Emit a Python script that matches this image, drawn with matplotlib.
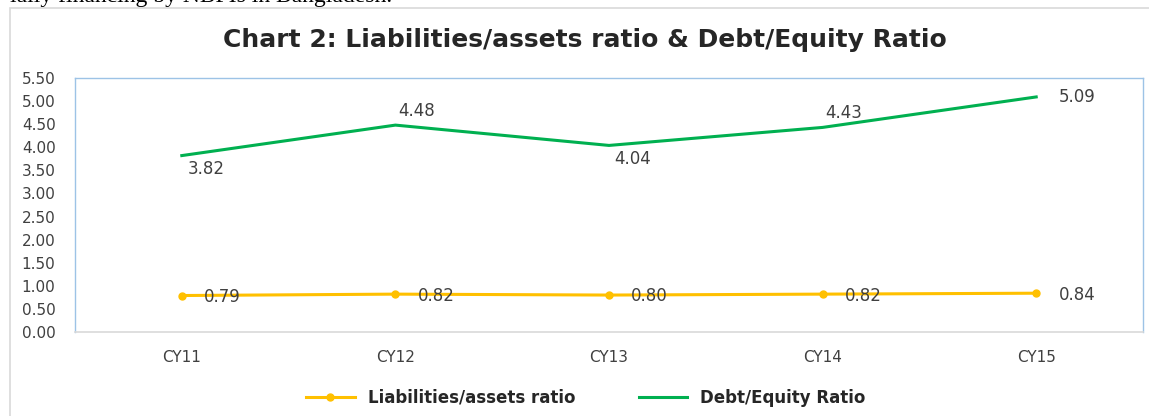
import matplotlib.pyplot as plt
from matplotlib.patches import Rectangle

# chart data
years = ["CY11", "CY12", "CY13", "CY14", "CY15"]
liab_assets = [0.79, 0.82, 0.80, 0.82, 0.84]
debt_equity = [3.82, 4.48, 4.04, 4.43, 5.09]
yticks = [0.0, 0.5, 1.0, 1.5, 2.0, 2.5, 3.0, 3.5, 4.0, 4.5, 5.0, 5.5]

# where the debt/equity labels sit: below, above, below, above, right
de_pos = ["below", "above", "below", "above", "right"]

W, H = 1149, 416
fig = plt.figure(figsize=(W / 100, H / 100), dpi=100)
plt.rcParams['font.family'] = ['DejaVu Sans']

# outer chart frame (light gray)
fig.patches.append(Rectangle((10 / W, -0.01), 1.2, (H - 8) / H + 0.01, transform=fig.transFigure,
                             fill=False, edgecolor="#d9d9d9", lw=1.2))

# cut-off line of body text from the page above the chart
fig.text(0.009, 1 - 2 / H, "ially financing by NBFIs in Bangladesh.", family="Liberation Serif",
         fontsize=17, va="baseline", ha="left", color="black")

ax = fig.add_axes([75 / W, 1 - 332 / H, (1143 - 75) / W, (332 - 78) / H])
x = range(len(years))

ax.plot(x, liab_assets, color="#FFC000", lw=2.2, marker="o", ms=5, label="Liabilities/assets ratio")
ax.plot(x, debt_equity, color="#00B050", lw=2.2, label="Debt/Equity Ratio")

ax.set_xlim(-0.5, len(years) - 0.5)
ax.set_ylim(0, 5.5)
ax.set_yticks(yticks)
ax.set_yticklabels([f"{v:.2f}" for v in yticks])
ax.set_xticks(list(x))
ax.set_xticklabels(years)
ax.tick_params(axis="y", length=0, pad=14, labelsize=11, colors="#404040")
ax.tick_params(axis="x", length=0, pad=13, labelsize=11, colors="#404040")

for side in ["left", "top", "right"]:
    ax.spines[side].set_color("#9DC3E6")
    ax.spines[side].set_linewidth(1)
ax.spines["bottom"].set_color("#d9d9d9")
ax.spines["bottom"].set_linewidth(1.2)

# data labels
for i, v in enumerate(liab_assets):
    ax.annotate(f"{v:.2f}", (i, v), xytext=(16, -1), textcoords="offset points",
                ha="left", va="center", fontsize=12, color="#404040")
for i, v in enumerate(debt_equity):
    if de_pos[i] == "below":
        off, ha, va = (4, -3), "left", "top"
    elif de_pos[i] == "above":
        off, ha, va = (15, 4), "center", "bottom"
    else:
        off, ha, va = (16, 0), "left", "center"
    ax.annotate(f"{v:.2f}", (i, v), xytext=off, textcoords="offset points",
                ha=ha, va=va, fontsize=12, color="#404040")

fig.text(585 / W, 1 - 40 / H, "Chart 2: Liabilities/assets ratio & Debt/Equity Ratio",
         ha="center", va="center", fontsize=18, fontweight="bold", color="#262626")

fig.legend(loc="center", bbox_to_anchor=(586 / W, 1 - 398 / H), ncol=2, frameon=False,
           prop={"weight": "bold", "size": 12}, handlelength=2.9, columnspacing=3.8,
           labelcolor="#262626")

fig.savefig("out.png", dpi=100)
